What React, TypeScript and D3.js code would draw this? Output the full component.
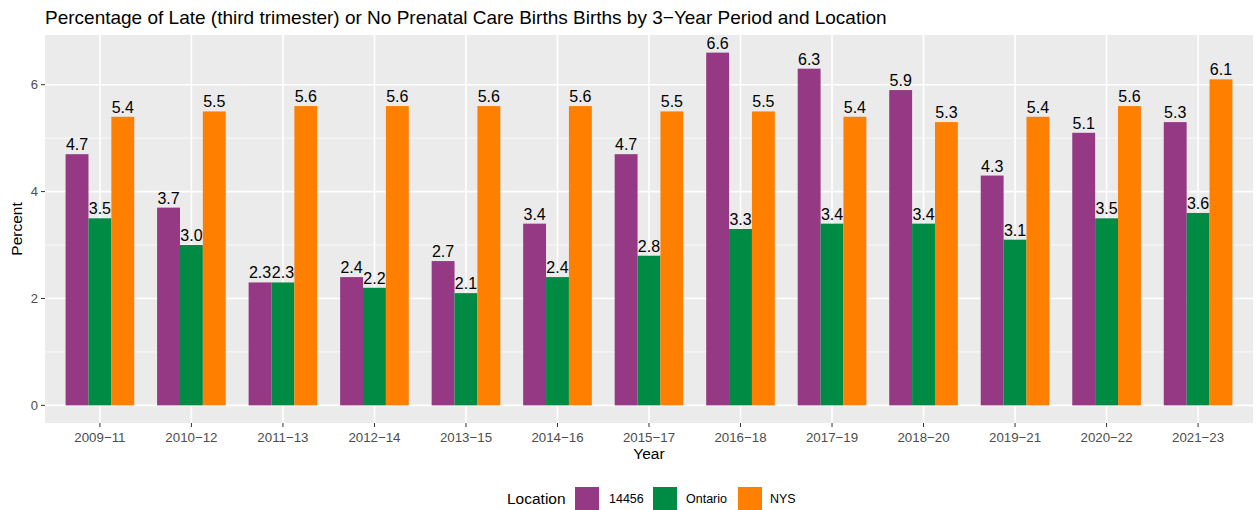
import * as d3 from 'd3';
import React from 'react';

const periods = ['2009–11', '2010–12', '2011–13', '2012–14', '2013–15', '2014–16', '2015–17', '2016–18', '2017–19', '2018–20', '2019–21', '2020–22', '2021–23'].map((p) => p.replace('–', '\u2212'));
const locations = ['14456', 'Ontario', 'NYS'];
const zip14456 = [4.7, 3.7, 2.3, 2.4, 2.7, 3.4, 4.7, 6.6, 6.3, 5.9, 4.3, 5.1, 5.3];
const ontario = [3.5, 3.0, 2.3, 2.2, 2.1, 2.4, 2.8, 3.3, 3.4, 3.4, 3.1, 3.5, 3.6];
const nys = [5.4, 5.5, 5.6, 5.6, 5.6, 5.6, 5.5, 5.5, 5.4, 5.3, 5.4, 5.6, 6.1];
const colors = ['#953984', '#008B45', '#FF7F00'];
const yTicks = [0, 2, 4, 6];
const yMinor = [1, 3, 5];

const W = 1256;
const H = 510;
const margin = { top: 35, right: 3, bottom: 87, left: 45 };
const font = '"Liberation Sans", Arial, sans-serif';

const App = () => {
  const series = [zip14456, ontario, nys];
  const maxV = d3.max(series.flat()) as number;
  const pad = maxV * 0.05;

  const x = d3.scaleBand()
    .domain(periods)
    .range([margin.left, W - margin.right])
    .paddingInner(0.25)
    .paddingOuter(0.225);

  const xs = d3.scaleBand()
    .domain(locations)
    .range([0, x.bandwidth()]);

  const y = d3.scaleLinear()
    .domain([-pad, maxV + pad])
    .range([H - margin.bottom, margin.top]);

  const panelW = W - margin.left - margin.right;
  const panelH = H - margin.top - margin.bottom;
  const fmt = d3.format('.1f');

  // legend layout (measured by eye)
  const legendY = 487;
  const legend = [
    { key: 575, label: 609 },
    { key: 653, label: 686 },
    { key: 738, label: 770 },
  ];

  return (
    <svg width={W} height={H} style={{ position: 'absolute', left: 0, top: 0, fontFamily: font }}>
      <rect width={W} height={H} fill="#fff" />
      <text x={margin.left} y={24} fontSize={19} fill="#000">
        Percentage of Late (third trimester) or No Prenatal Care Births Births by 3{'\u2212'}Year Period and Location
      </text>

      <rect x={margin.left} y={margin.top} width={panelW} height={panelH} fill="#EBEBEB" />
      {yMinor.map((t) => (
        <line key={'m' + t} x1={margin.left} x2={W - margin.right} y1={y(t)} y2={y(t)} stroke="#fff" strokeWidth={0.8} />
      ))}
      {yTicks.map((t) => (
        <line key={'g' + t} x1={margin.left} x2={W - margin.right} y1={y(t)} y2={y(t)} stroke="#fff" strokeWidth={1.6} />
      ))}
      {periods.map((p) => (
        <line key={'v' + p} x1={(x(p) as number) + x.bandwidth() / 2} x2={(x(p) as number) + x.bandwidth() / 2} y1={margin.top} y2={H - margin.bottom} stroke="#fff" strokeWidth={1.6} />
      ))}

      {periods.map((p, i) => (
        <g key={'bars' + p} transform={`translate(${x(p)},0)`}>
          {locations.map((loc, j) => {
            const v = series[j][i];
            const bx = xs(loc) as number;
            return (
              <g key={loc}>
                <rect x={bx} y={y(v)} width={xs.bandwidth()} height={y(0) - y(v)} fill={colors[j]} />
                <text x={bx + xs.bandwidth() / 2} y={y(v) - 4} textAnchor="middle" fontSize={16} fill="#000">
                  {fmt(v)}
                </text>
              </g>
            );
          })}
        </g>
      ))}

      {/* y axis */}
      {yTicks.map((t) => (
        <g key={'yt' + t}>
          <line x1={margin.left - 4} x2={margin.left} y1={y(t)} y2={y(t)} stroke="#333" strokeWidth={1} />
          <text x={margin.left - 7} y={y(t)} dy="0.36em" textAnchor="end" fontSize={13} fill="#4D4D4D">{t}</text>
        </g>
      ))}
      {/* x axis */}
      {periods.map((p) => {
        const cx = (x(p) as number) + x.bandwidth() / 2;
        return (
          <g key={'xt' + p}>
            <line x1={cx} x2={cx} y1={H - margin.bottom} y2={H - margin.bottom + 4} stroke="#333" strokeWidth={1} />
            <text x={cx} y={442} textAnchor="middle" fontSize={13.3} fill="#4D4D4D">{p}</text>
          </g>
        );
      })}

      <text x={margin.left + panelW / 2} y={459} textAnchor="middle" fontSize={15.5} fill="#000">Year</text>
      <text transform={`translate(22,${margin.top + panelH / 2}) rotate(-90)`} textAnchor="middle" fontSize={15.5} fill="#000">Percent</text>

      {/* legend */}
      <text x={507} y={legendY + 17} fontSize={15.5} fill="#000">Location</text>
      {locations.map((loc, j) => (
        <g key={'lg' + loc}>
          <rect x={legend[j].key} y={legendY} width={24} height={23} fill={colors[j]} />
          <text x={legend[j].label} y={legendY + 16} fontSize={12.5} fill="#000">{loc}</text>
        </g>
      ))}
    </svg>
  );
};

export default App;
